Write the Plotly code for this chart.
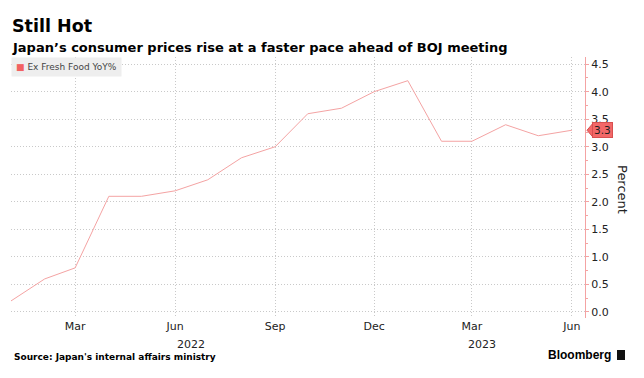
import plotly.graph_objects as go

# ---- data ----
months = ["2022-01-01", "2022-02-01", "2022-03-01", "2022-04-01", "2022-05-01", "2022-06-01",
          "2022-07-01", "2022-08-01", "2022-09-01", "2022-10-01", "2022-11-01", "2022-12-01",
          "2023-01-01", "2023-02-01", "2023-03-01", "2023-04-01", "2023-05-01", "2023-06-01"]
cpi_ex_fresh_food = [0.2, 0.6, 0.8, 2.1, 2.1, 2.2, 2.4, 2.8, 3.0, 3.6, 3.7, 4.0,
                     4.2, 3.1, 3.1, 3.4, 3.2, 3.3]
y_ticks = [0.0, 0.5, 1.0, 1.5, 2.0, 2.5, 3.0, 3.5, 4.0, 4.5]
x_tick_dates = ["2022-03-01", "2022-06-01", "2022-09-01", "2022-12-01", "2023-03-01", "2023-06-01"]
x_tick_text = ["Mar", "Jun", "Sep", "Dec", "Mar", "Jun"]
years = ["2022", "2023"]
year_pos = ["2022-06-16", "2023-03-10"]

W, H = 644, 378
ML, MR, MT, MB = 11, 59, 57, 60
PW, PH = W - ML - MR, H - MT - MB
YR = [-0.11, 4.63]

def px(x):
    return (x - ML) / PW

def py(y):
    return (H - MB - y) / PH

LINE = "#f4a3a3"
GRID = "#c9c9c9"
FONT = "DejaVu Sans"

fig = go.Figure()
fig.add_trace(go.Scatter(x=months, y=cpi_ex_fresh_food, mode="lines",
                         line=dict(color=LINE, width=1), showlegend=False,
                         hoverinfo="skip"))

fig.update_layout(
    width=W, height=H,
    margin=dict(l=ML, r=MR, t=MT, b=MB),
    paper_bgcolor="white", plot_bgcolor="white",
    font=dict(family=FONT, size=11, color="#222"),
    showlegend=False,
)
fig.update_xaxes(
    type="date", range=["2022-01-01", "2023-06-13"],
    tickvals=x_tick_dates, ticktext=x_tick_text,
    showgrid=True, gridcolor=GRID, griddash="1px,2px", gridwidth=1,
    showline=False, zeroline=False, ticks="", tickfont=dict(size=11, color="#222"),
)
fig.update_yaxes(
    side="right", range=YR, tickvals=y_ticks,
    ticktext=[f"{v:.1f}" for v in y_ticks],
    showgrid=True, gridcolor=GRID, griddash="1px,2px", gridwidth=1,
    showline=True, linecolor=LINE, linewidth=1, zeroline=False,
    ticks="outside", tickcolor=LINE, ticklen=3, tickwidth=1,
    minor=dict(dtick=0.25, ticks="outside", ticklen=2, tickcolor=LINE),
    tickfont=dict(size=11, color="#222"),
)

ann = []
ann.append(dict(text="<b>Still Hot</b>", xref="paper", yref="paper", x=px(10), y=py(14),
                xanchor="left", yanchor="top", showarrow=False,
                font=dict(size=17.5, color="#000", family=FONT)))
ann.append(dict(text="<b>Japan’s consumer prices rise at a faster pace ahead of BOJ meeting</b>",
                xref="paper", yref="paper", x=px(10), y=py(38),
                xanchor="left", yanchor="top", showarrow=False,
                font=dict(size=13, color="#000", family=FONT)))
ann.append(dict(text="<span style='color:#f26161'>■</span> Ex Fresh Food YoY%",
                xref="paper", yref="paper", x=px(11), y=py(57),
                xanchor="left", yanchor="top", showarrow=False, bgcolor="#eeeeee",
                borderpad=4, font=dict(size=9, color="#444", family=FONT)))
for yr, pos in zip(years, year_pos):
    ann.append(dict(text=yr, x=pos, xref="x", yref="paper", y=py(336),
                    xanchor="center", yanchor="top", showarrow=False,
                    font=dict(size=11, color="#222")))
ann.append(dict(text="Percent", xref="paper", yref="paper", x=px(623), y=py(190),
                xanchor="center", yanchor="middle",
                textangle=90, showarrow=False, font=dict(size=13, color="#222")))
ann.append(dict(text="<b>Source: Japan's internal affairs ministry</b>", xref="paper",
                yref="paper", x=px(12), y=py(357), xanchor="left", yanchor="middle",
                showarrow=False, font=dict(size=9, color="#000", family=FONT)))
ann.append(dict(text="<b>Bloomberg</b>", xref="paper", yref="paper", x=px(613), y=py(355),
                xanchor="right", yanchor="middle", showarrow=False,
                font=dict(size=12, color="#000", family="Liberation Sans")))
last = cpi_ex_fresh_food[-1]
ann.append(dict(text=f"{last:.1f}", xref="paper", yref="y", x=1, y=last, xshift=7,
                xanchor="left", yanchor="middle", showarrow=False, bgcolor="#f36868",
                bordercolor="#d85050", borderwidth=1, borderpad=1,
                font=dict(size=10.5, color="#222")))
fig.update_layout(annotations=ann)

# price-tag pointer and Bloomberg icon
dy = 7 * (YR[1] - YR[0]) / PH
fig.add_shape(type="path", xref="paper", yref="y",
              path=f"M {1 + 2/PW} {last} L {1 + 8/PW} {last + dy} L {1 + 8/PW} {last - dy} Z",
              fillcolor="#f36868", line=dict(color="#d85050", width=1))
fig.add_shape(type="rect", xref="paper", yref="paper", x0=px(617), x1=px(625),
              y0=py(360), y1=py(350), fillcolor="#111", line=dict(width=0))

fig.write_html("out.html", config={"displayModeBar": False},
               post_script="document.body.style.margin='0px';")
